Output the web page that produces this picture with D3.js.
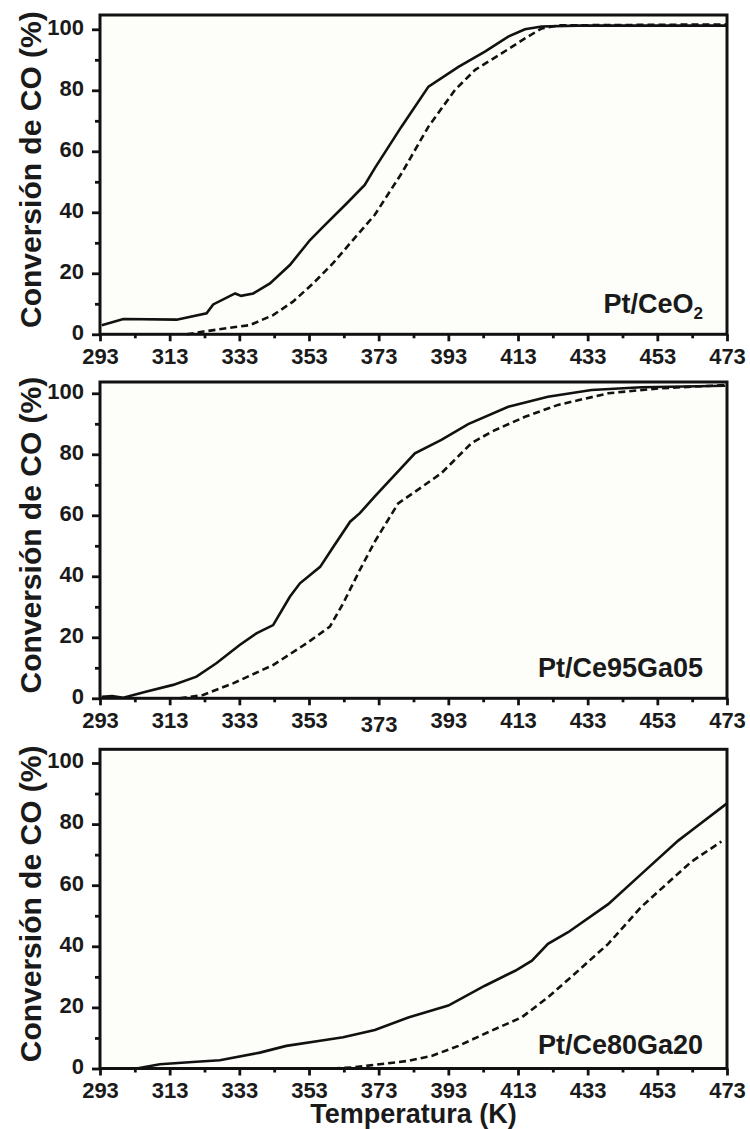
<!DOCTYPE html>
<html>
<head>
<meta charset="utf-8">
<script src="https://cdn.jsdelivr.net/npm/d3@7"></script>
<style>
  body { margin: 0; background: #fff; }
  svg text { font-family: "Liberation Sans", Arial, sans-serif; font-weight: bold; fill: #1a1a1a; }
</style>
</head>
<body>
<svg id="chart" width="750" height="1129"></svg>
<script>
// x ticks and y ticks
const xTicks = [293, 313, 333, 353, 373, 393, 413, 433, 453, 473];
const xMinor = [303, 323, 343, 363, 383, 403, 423, 443, 463];
const yTicks = [0, 20, 40, 60, 80, 100];
const yMinor = [10, 30, 50, 70, 90];

// Pt/CeO2
const ceo2SolidT = [293.5, 299.7, 315, 323.6, 325.5, 331.8, 333.5, 337, 341.8, 347.5, 353.3, 357.1, 363.8, 369, 371.9, 379.5, 387.3, 395.9, 403.5, 410.2, 415, 419.8, 430, 473];
const ceo2SolidV = [3.0, 5.0, 4.8, 6.9, 9.8, 13.4, 12.6, 13.4, 16.7, 22.7, 30.9, 35.3, 42.9, 49, 54.5, 68, 81.2, 87.7, 92.7, 97.6, 100, 100.9, 101.2, 101.2];
const ceo2DashT = [317.9, 322.7, 331.3, 336, 342.7, 348.4, 354.2, 359.9, 365.6, 371.9, 379.6, 387.3, 394.9, 400.7, 408.3, 415, 419.8, 425, 473];
const ceo2DashV = [0, 0.9, 2.3, 3.0, 6.3, 10.7, 16.7, 23.3, 30.9, 39.2, 52.8, 68.1, 80.1, 86.7, 92.1, 97, 100.3, 101.3, 101.6];

// Pt/Ce95Ga05
const ga05SolidT = [293.5, 296.5, 299.7, 306.4, 314, 320.7, 326.4, 333.1, 337.9, 342.7, 347.5, 350.4, 356.2, 360, 364.8, 367.6, 371.9, 383.4, 391, 398.7, 410.2, 421.6, 434.1, 448.4, 472.5];
const ga05SolidV = [0.5, 0.7, 0.2, 2.2, 4.4, 7.1, 11.5, 17.5, 21.3, 24.0, 33.3, 37.7, 43.1, 49.7, 57.9, 60.7, 66.2, 80.3, 84.7, 89.9, 95.6, 98.9, 101.1, 102, 102.5];
const ga05DashT = [315.9, 322.6, 331.2, 342.7, 352.3, 359, 362.8, 367.6, 371.9, 378.6, 383.4, 391, 399.6, 405.4, 415, 424.5, 438.9, 453.2, 472.5];
const ga05DashV = [0, 1.1, 4.9, 10.9, 18, 23.5, 31.1, 42.1, 51.4, 63.9, 67.7, 73.8, 83.6, 87.4, 92.3, 96.2, 100, 101.6, 102.7];

// Pt/Ce80Ga20
const ga20SolidT = [303.5, 310.2, 320.7, 327.4, 338.9, 346.5, 356.2, 362.8, 371.9, 381.5, 393, 403.5, 412.2, 417, 421.6, 427.4, 438.9, 449.4, 459, 462.8, 472.9];
const ga20SolidV = [0, 1.4, 2.2, 2.7, 5.2, 7.4, 9.1, 10.2, 12.6, 16.7, 20.6, 27.1, 32, 35.3, 40.8, 44.6, 53.8, 64.7, 74.6, 77.9, 86.7];
const ga20DashT = [360, 366, 371.9, 381.5, 388.2, 395.9, 405.4, 414, 421.6, 429.3, 438.9, 448.4, 458, 462.8, 471.4];
const ga20DashV = [0, 0.4, 1.2, 2.5, 4.1, 7.4, 12.4, 16.7, 23.3, 31, 40.8, 52.9, 62.8, 67.7, 74.3];

const panels = [
  {label: 'Pt/CeO', sub: '2', top: 15, y100: 29.3, bottom: 334.3, labOff: 21,
   solid: [ceo2SolidT, ceo2SolidV], dash: [ceo2DashT, ceo2DashV]},
  {label: 'Pt/Ce95Ga05', sub: null, top: 382, y100: 393.3, bottom: 698.3, labOff: 21,
   solid: [ga05SolidT, ga05SolidV], dash: [ga05DashT, ga05DashV]},
  {label: 'Pt/Ce80Ga20', sub: null, top: 749.3, bottom: 1068.5, y100: 763, labOff: 15,
   solid: [ga20SolidT, ga20SolidV], dash: [ga20DashT, ga20DashV]}
];

const svg = d3.select('#chart');
const left = 100, right = 727;

let x = d3.scaleLinear().domain([293, 473]).range([left, right]);

panels.forEach(function(p, i){
  let y = d3.scaleLinear().domain([0, 100]).range([p.bottom, p.y100]);
  let g = svg.append('g').attr('class', 'panel');

  g.append('rect')
    .attr('x', left).attr('y', p.top)
    .attr('width', right - left).attr('height', p.bottom - p.top)
    .attr('fill', '#fdfdf9');

  // minor ticks
  let xm = g.append('g').attr('transform', `translate(0,${p.bottom})`)
    .call(d3.axisBottom(x).tickValues(xMinor).tickSize(4).tickFormat(''));
  let ym = g.append('g').attr('transform', `translate(${left},0)`)
    .call(d3.axisLeft(y).tickValues(yMinor).tickSize(5).tickFormat(''));

  let xa = g.append('g').attr('transform', `translate(0,${p.bottom})`)
    .call(d3.axisBottom(x).tickValues(xTicks).tickSize(7).tickPadding(7).tickFormat(d3.format('d')));
  let ya = g.append('g').attr('transform', `translate(${left},0)`)
    .call(d3.axisLeft(y).tickValues(yTicks).tickSize(8).tickPadding(8));

  [xm, ym, xa, ya].forEach(function(a){
    a.select('.domain').remove();
    a.selectAll('line').attr('stroke', '#111').attr('stroke-width', 2.8);
  });
  xa.selectAll('text').attr('font-size', 22).attr('fill', '#1a1a1a');
  ya.selectAll('text').attr('font-size', 22).attr('fill', '#1a1a1a').attr('dy', '0.22em');
  if (i === 1){
    xa.selectAll('text').filter(d => d === 373).attr('transform', 'translate(0,4)');
  }

  let line = d3.line().x(d => x(d[0])).y(d => y(d[1]));
  let solidPts = d3.zip(p.solid[0], p.solid[1]);
  let dashPts = d3.zip(p.dash[0], p.dash[1]);

  g.append('path').datum(dashPts)
    .attr('d', line).attr('fill', 'none')
    .attr('stroke', '#111').attr('stroke-width', 2.6)
    .attr('stroke-dasharray', '7,4');
  g.append('path').datum(solidPts)
    .attr('d', line).attr('fill', 'none')
    .attr('stroke', '#111').attr('stroke-width', 2.6);

  // frame
  g.append('rect')
    .attr('x', left).attr('y', p.top)
    .attr('width', right - left).attr('height', p.bottom - p.top)
    .attr('fill', 'none').attr('stroke', '#111').attr('stroke-width', 3);

  // sample label
  let lab = g.append('text')
    .attr('x', 703).attr('y', p.bottom - p.labOff)
    .attr('text-anchor', 'end').attr('font-size', 27)
    .text(p.label);
  if (p.sub){
    lab.append('tspan').attr('font-size', 17).attr('dy', 6).text(p.sub);
  }

  // y title
  g.append('text')
    .attr('transform', `translate(30,${(p.top + p.bottom) / 2 - 5}) rotate(-90)`)
    .attr('text-anchor', 'middle').attr('dominant-baseline', 'central')
    .attr('font-size', 30)
    .text('Conversión de CO (%)');
});

svg.append('text')
  .attr('x', (left + right) / 2).attr('y', 1123)
  .attr('text-anchor', 'middle').attr('font-size', 27)
  .text('Temperatura (K)');
</script>
</body>
</html>
